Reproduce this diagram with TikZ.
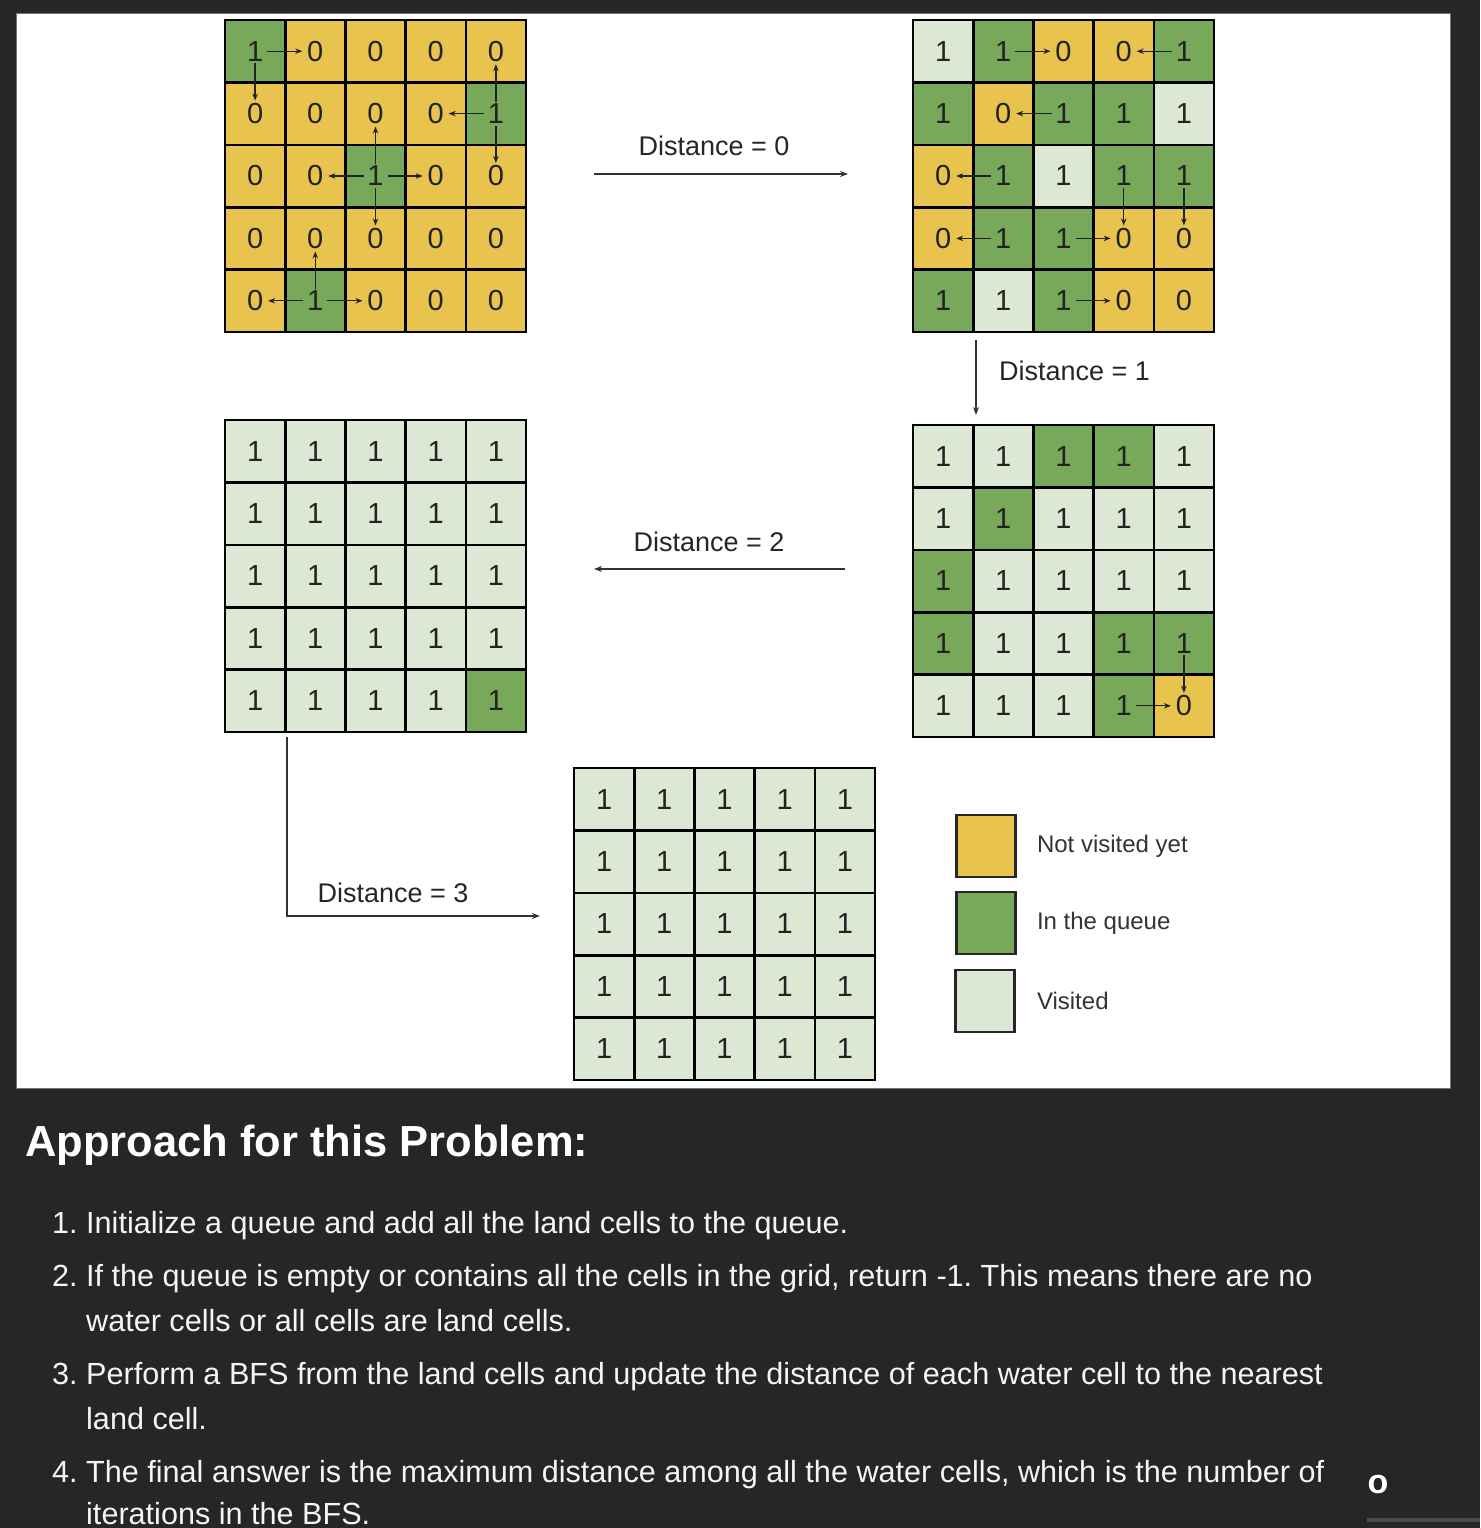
\documentclass[tikz,border=0pt]{standalone}
\usepackage{fontspec}
\setmainfont{Liberation Sans}
\usetikzlibrary{arrows.meta,positioning}
\frenchspacing

\definecolor{pagebg}{HTML}{262626}
\definecolor{nv}{HTML}{E8C44F}
\definecolor{iq}{HTML}{78A85A}
\definecolor{vs}{HTML}{DCE8D4}
\definecolor{ink}{HTML}{222222}

\newcommand{\cellgrid}[4]{%
    \foreach \rowlist [count=\i] in {#4}
        {
            \foreach \st/\val [count=\j] in \rowlist
                \node[cell, fill=\st] (#1-\i-\j) at ({#2+60.2*(\j-0.5)}, {#3+62.4*(\i-0.5)}) {\val};
        }
}

\begin{document}
\begin{tikzpicture}[x=1pt, y=-1pt, >=stealth,
            cell/.style = {draw=black, line width=2.6pt, minimum width=60.2pt, minimum height=62.4pt,
                    inner sep=0pt, outer sep=0pt, text=ink, font=\fontsize{29}{30}\selectfont},
            swatch/.style = {draw=black!85, line width=2.6pt, minimum width=59pt, minimum height=62pt,
                    inner sep=0pt},
            hop/.style = {-{Stealth[length=7pt,width=5.5pt]}, line width=1.3pt, draw=ink,
                    shorten <=12pt, shorten >=13pt},
            flow/.style = {-{Stealth[length=8pt,width=6pt]}, line width=1.4pt, draw=black!80},
            dist/.style = {inner sep=0pt, text=black!85, font=\fontsize{27}{30}\selectfont},
            keytext/.style = {inner sep=0pt, text=black!80, font=\fontsize{24}{28}\selectfont},
            head/.style = {inner sep=0pt, text=white, font=\bfseries\fontsize{43.5}{50}\selectfont},
            listtext/.style = {inner sep=0pt, anchor=base west, text=white!96!black,
                    font=\fontsize{30.6}{36}\selectfont},
        ]

        \useasboundingbox (0,0) rectangle (1480,1528);
        \fill[pagebg] (0,0) rectangle (1480,1528);
        \filldraw[fill=white, draw=black!55, line width=1pt] (16,14) rectangle (1450,1088);

        \cellgrid{A}{225}{20}{{iq/1,nv/0,nv/0,nv/0,nv/0},{nv/0,nv/0,nv/0,nv/0,iq/1},
            {nv/0,nv/0,iq/1,nv/0,nv/0},{nv/0,nv/0,nv/0,nv/0,nv/0},{nv/0,iq/1,nv/0,nv/0,nv/0}}
        \cellgrid{B}{913}{20}{{vs/1,iq/1,nv/0,nv/0,iq/1},{iq/1,nv/0,iq/1,iq/1,vs/1},
            {nv/0,iq/1,vs/1,iq/1,iq/1},{nv/0,iq/1,iq/1,nv/0,nv/0},{iq/1,vs/1,iq/1,nv/0,nv/0}}
        \cellgrid{C}{913}{425}{{vs/1,vs/1,iq/1,iq/1,vs/1},{vs/1,iq/1,vs/1,vs/1,vs/1},
            {iq/1,vs/1,vs/1,vs/1,vs/1},{iq/1,vs/1,vs/1,iq/1,iq/1},{vs/1,vs/1,vs/1,iq/1,nv/0}}
        \cellgrid{D}{225}{420}{{vs/1,vs/1,vs/1,vs/1,vs/1},{vs/1,vs/1,vs/1,vs/1,vs/1},
            {vs/1,vs/1,vs/1,vs/1,vs/1},{vs/1,vs/1,vs/1,vs/1,vs/1},{vs/1,vs/1,vs/1,vs/1,iq/1}}
        \cellgrid{E}{574}{768}{{vs/1,vs/1,vs/1,vs/1,vs/1},{vs/1,vs/1,vs/1,vs/1,vs/1},
            {vs/1,vs/1,vs/1,vs/1,vs/1},{vs/1,vs/1,vs/1,vs/1,vs/1},{vs/1,vs/1,vs/1,vs/1,vs/1}}

        \foreach \a/\b in {1-1/1-2, 1-1/2-1, 2-5/1-5, 2-5/2-4, 2-5/3-5, 3-3/2-3, 3-3/3-2,
                3-3/3-4, 3-3/4-3, 5-2/4-2, 5-2/5-1, 5-2/5-3}
            \draw[hop] (A-\a.center) -- (A-\b.center);
        \foreach \a/\b in {1-2/1-3, 1-5/1-4, 2-3/2-2, 3-2/3-1, 3-4/4-4, 3-5/4-5, 4-2/4-1,
                4-3/4-4, 5-3/5-4}
            \draw[hop] (B-\a.center) -- (B-\b.center);
        \foreach \a/\b in {4-5/5-5, 5-4/5-5}
            \draw[hop] (C-\a.center) -- (C-\b.center);

        \coordinate (d0a) at (594,174);
        \coordinate (d0b) at (848,174);
        \coordinate (d1a) at (976,340);
        \coordinate (d1b) at (976,415);
        \coordinate (d2a) at (845,569);
        \coordinate (d2b) at (594,569);
        \coordinate (d3a) at (287,737);
        \coordinate (d3b) at (540,916);

        \draw[flow] (d0a) -- (d0b);
        \draw[flow] (d1a) -- (d1b);
        \draw[flow] (d2a) -- (d2b);
        \draw[flow] (d3a) |- (d3b);

        \node[dist] (d0lab) at (714,146) {Distance = 0};
        \node[dist, anchor=west] (d1lab) at (999,371) {Distance = 1};
        \node[dist] (d2lab) at (709,542) {Distance = 2};
        \node[dist] (d3lab) at (393,893) {Distance = 3};

        \node[swatch, fill=nv] (key-nv) at (986,846) {};
        \node[swatch, fill=iq] (key-iq) at (986,923) {};
        \node[swatch, fill=vs] (key-vs) at (985,1001) {};
        \node[keytext, right=20pt of key-nv] (key-nv-t) {Not visited yet};
        \node[keytext, right=20pt of key-iq] (key-iq-t) {In the queue};
        \node[keytext, right=21pt of key-vs] (key-vs-t) {Visited};

        \node[head, anchor=base west] (title) at (25,1156) {Approach for this Problem:};

        \foreach \num/\yy in {1/1233, 2/1286, 3/1384, 4/1482}
            \node[listtext] (num\num) at (52,\yy) {\num.};

        \foreach \yy/\txt [count=\k] in {1233/{Initialize a queue and add all the land cells to the queue.},
                1286/{If the queue is empty or contains all the cells in the grid, return -1. This means there are no},
                1331/{water cells or all cells are land cells.},
                1384/{Perform a BFS from the land cells and update the distance of each water cell to the nearest},
                1429/{land cell.},
                1482/{The final answer is the maximum distance among all the water cells, which is the number of},
                1524/{iterations in the BFS.}}
            \node[listtext] (line\k) at (86,\yy) {\txt};

        \node[inner sep=0pt, text=white, font=\bfseries\fontsize{34}{36}\selectfont] (stray) at (1378,1484) {o};
        \fill[black!70] (1367,1518) rectangle (1480,1522);
    \end{tikzpicture}
\end{document}
